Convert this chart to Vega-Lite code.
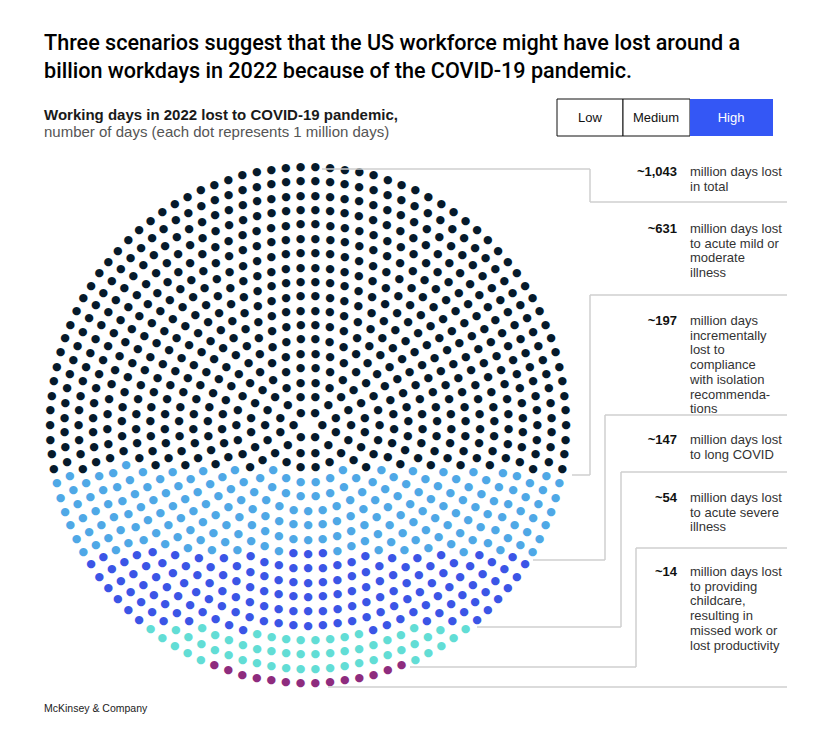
{
"$schema":"https://vega.github.io/schema/vega-lite/v6.json",
"width":616,"height":630,
"autosize":"none",
"padding":{"left":0,"top":110,"right":212,"bottom":1},
"background":"white",
"config":{"view":{"stroke":null}},
"datasets":{
"dots":[
{"r":1,"k":0,"c":"K"},{"r":1,"k":1,"c":"K"},{"r":1,"k":2,"c":"K"},{"r":1,"k":3,"c":"K"},{"r":1,"k":4,"c":"K"},{"r":1,"k":5,"c":"K"},
{"r":2,"k":0,"c":"K"},{"r":2,"k":1,"c":"K"},{"r":2,"k":2,"c":"K"},{"r":2,"k":3,"c":"K"},{"r":2,"k":4,"c":"K"},{"r":2,"k":5,"c":"K"},{"r":2,"k":6,"c":"K"},{"r":2,"k":7,"c":"K"},{"r":2,"k":8,"c":"K"},{"r":2,"k":9,"c":"K"},{"r":2,"k":10,"c":"K"},{"r":2,"k":11,"c":"K"},
{"r":3,"k":0,"c":"K"},{"r":3,"k":1,"c":"K"},{"r":3,"k":2,"c":"K"},{"r":3,"k":3,"c":"K"},{"r":3,"k":4,"c":"K"},{"r":3,"k":5,"c":"K"},{"r":3,"k":6,"c":"K"},{"r":3,"k":7,"c":"K"},{"r":3,"k":8,"c":"K"},{"r":3,"k":9,"c":"K"},{"r":3,"k":10,"c":"K"},{"r":3,"k":11,"c":"K"},{"r":3,"k":12,"c":"K"},{"r":3,"k":13,"c":"K"},{"r":3,"k":14,"c":"K"},{"r":3,"k":15,"c":"K"},{"r":3,"k":16,"c":"K"},{"r":3,"k":17,"c":"K"},
{"r":4,"k":0,"c":"K"},{"r":4,"k":1,"c":"K"},{"r":4,"k":2,"c":"K"},{"r":4,"k":3,"c":"K"},{"r":4,"k":4,"c":"K"},{"r":4,"k":5,"c":"K"},{"r":4,"k":6,"c":"K"},{"r":4,"k":7,"c":"K"},{"r":4,"k":8,"c":"K"},{"r":4,"k":9,"c":"L"},{"r":4,"k":10,"c":"L"},{"r":4,"k":11,"c":"L"},{"r":4,"k":12,"c":"L"},{"r":4,"k":13,"c":"L"},{"r":4,"k":14,"c":"L"},{"r":4,"k":15,"c":"K"},{"r":4,"k":16,"c":"K"},{"r":4,"k":17,"c":"K"},{"r":4,"k":18,"c":"K"},{"r":4,"k":19,"c":"K"},{"r":4,"k":20,"c":"K"},{"r":4,"k":21,"c":"K"},{"r":4,"k":22,"c":"K"},{"r":4,"k":23,"c":"K"},
{"r":5,"k":0,"c":"K"},{"r":5,"k":1,"c":"K"},{"r":5,"k":2,"c":"K"},{"r":5,"k":3,"c":"K"},{"r":5,"k":4,"c":"K"},{"r":5,"k":5,"c":"K"},{"r":5,"k":6,"c":"K"},{"r":5,"k":7,"c":"K"},{"r":5,"k":8,"c":"K"},{"r":5,"k":9,"c":"K"},{"r":5,"k":10,"c":"K"},{"r":5,"k":11,"c":"L"},{"r":5,"k":12,"c":"L"},{"r":5,"k":13,"c":"L"},{"r":5,"k":14,"c":"L"},{"r":5,"k":15,"c":"L"},{"r":5,"k":16,"c":"L"},{"r":5,"k":17,"c":"L"},{"r":5,"k":18,"c":"L"},{"r":5,"k":19,"c":"K"},{"r":5,"k":20,"c":"K"},{"r":5,"k":21,"c":"K"},{"r":5,"k":22,"c":"K"},{"r":5,"k":23,"c":"K"},{"r":5,"k":24,"c":"K"},{"r":5,"k":25,"c":"K"},{"r":5,"k":26,"c":"K"},{"r":5,"k":27,"c":"K"},{"r":5,"k":28,"c":"K"},{"r":5,"k":29,"c":"K"},
{"r":6,"k":0,"c":"K"},{"r":6,"k":1,"c":"K"},{"r":6,"k":2,"c":"K"},{"r":6,"k":3,"c":"K"},{"r":6,"k":4,"c":"K"},{"r":6,"k":5,"c":"K"},{"r":6,"k":6,"c":"K"},{"r":6,"k":7,"c":"K"},{"r":6,"k":8,"c":"K"},{"r":6,"k":9,"c":"K"},{"r":6,"k":10,"c":"K"},{"r":6,"k":11,"c":"K"},{"r":6,"k":12,"c":"L"},{"r":6,"k":13,"c":"L"},{"r":6,"k":14,"c":"L"},{"r":6,"k":15,"c":"L"},{"r":6,"k":16,"c":"L"},{"r":6,"k":17,"c":"L"},{"r":6,"k":18,"c":"L"},{"r":6,"k":19,"c":"L"},{"r":6,"k":20,"c":"L"},{"r":6,"k":21,"c":"L"},{"r":6,"k":22,"c":"L"},{"r":6,"k":23,"c":"L"},{"r":6,"k":24,"c":"L"},{"r":6,"k":25,"c":"K"},{"r":6,"k":26,"c":"K"},{"r":6,"k":27,"c":"K"},{"r":6,"k":28,"c":"K"},{"r":6,"k":29,"c":"K"},{"r":6,"k":30,"c":"K"},{"r":6,"k":31,"c":"K"},{"r":6,"k":32,"c":"K"},{"r":6,"k":33,"c":"K"},{"r":6,"k":34,"c":"K"},{"r":6,"k":35,"c":"K"},{"r":6,"k":36,"c":"K"},
{"r":7,"k":0,"c":"K"},{"r":7,"k":1,"c":"K"},{"r":7,"k":2,"c":"K"},{"r":7,"k":3,"c":"K"},{"r":7,"k":4,"c":"K"},{"r":7,"k":5,"c":"K"},{"r":7,"k":6,"c":"K"},{"r":7,"k":7,"c":"K"},{"r":7,"k":8,"c":"K"},{"r":7,"k":9,"c":"K"},{"r":7,"k":10,"c":"K"},{"r":7,"k":11,"c":"K"},{"r":7,"k":12,"c":"K"},{"r":7,"k":13,"c":"K"},{"r":7,"k":14,"c":"L"},{"r":7,"k":15,"c":"L"},{"r":7,"k":16,"c":"L"},{"r":7,"k":17,"c":"L"},{"r":7,"k":18,"c":"L"},{"r":7,"k":19,"c":"L"},{"r":7,"k":20,"c":"L"},{"r":7,"k":21,"c":"L"},{"r":7,"k":22,"c":"L"},{"r":7,"k":23,"c":"L"},{"r":7,"k":24,"c":"L"},{"r":7,"k":25,"c":"L"},{"r":7,"k":26,"c":"L"},{"r":7,"k":27,"c":"L"},{"r":7,"k":28,"c":"L"},{"r":7,"k":29,"c":"K"},{"r":7,"k":30,"c":"K"},{"r":7,"k":31,"c":"K"},{"r":7,"k":32,"c":"K"},{"r":7,"k":33,"c":"K"},{"r":7,"k":34,"c":"K"},{"r":7,"k":35,"c":"K"},{"r":7,"k":36,"c":"K"},{"r":7,"k":37,"c":"K"},{"r":7,"k":38,"c":"K"},{"r":7,"k":39,"c":"K"},{"r":7,"k":40,"c":"K"},{"r":7,"k":41,"c":"K"},{"r":7,"k":42,"c":"K"},
{"r":8,"k":0,"c":"K"},{"r":8,"k":1,"c":"K"},{"r":8,"k":2,"c":"K"},{"r":8,"k":3,"c":"K"},{"r":8,"k":4,"c":"K"},{"r":8,"k":5,"c":"K"},{"r":8,"k":6,"c":"K"},{"r":8,"k":7,"c":"K"},{"r":8,"k":8,"c":"K"},{"r":8,"k":9,"c":"K"},{"r":8,"k":10,"c":"K"},{"r":8,"k":11,"c":"K"},{"r":8,"k":12,"c":"K"},{"r":8,"k":13,"c":"K"},{"r":8,"k":14,"c":"K"},{"r":8,"k":15,"c":"L"},{"r":8,"k":16,"c":"L"},{"r":8,"k":17,"c":"L"},{"r":8,"k":18,"c":"L"},{"r":8,"k":19,"c":"L"},{"r":8,"k":20,"c":"L"},{"r":8,"k":21,"c":"L"},{"r":8,"k":22,"c":"L"},{"r":8,"k":23,"c":"L"},{"r":8,"k":24,"c":"L"},{"r":8,"k":25,"c":"L"},{"r":8,"k":26,"c":"L"},{"r":8,"k":27,"c":"L"},{"r":8,"k":28,"c":"L"},{"r":8,"k":29,"c":"L"},{"r":8,"k":30,"c":"L"},{"r":8,"k":31,"c":"L"},{"r":8,"k":32,"c":"L"},{"r":8,"k":33,"c":"L"},{"r":8,"k":34,"c":"K"},{"r":8,"k":35,"c":"K"},{"r":8,"k":36,"c":"K"},{"r":8,"k":37,"c":"K"},{"r":8,"k":38,"c":"K"},{"r":8,"k":39,"c":"K"},{"r":8,"k":40,"c":"K"},{"r":8,"k":41,"c":"K"},{"r":8,"k":42,"c":"K"},{"r":8,"k":43,"c":"K"},{"r":8,"k":44,"c":"K"},{"r":8,"k":45,"c":"K"},{"r":8,"k":46,"c":"K"},{"r":8,"k":47,"c":"K"},{"r":8,"k":48,"c":"K"},
{"r":9,"k":0,"c":"K"},{"r":9,"k":1,"c":"K"},{"r":9,"k":2,"c":"K"},{"r":9,"k":3,"c":"K"},{"r":9,"k":4,"c":"K"},{"r":9,"k":5,"c":"K"},{"r":9,"k":6,"c":"K"},{"r":9,"k":7,"c":"K"},{"r":9,"k":8,"c":"K"},{"r":9,"k":9,"c":"K"},{"r":9,"k":10,"c":"K"},{"r":9,"k":11,"c":"K"},{"r":9,"k":12,"c":"K"},{"r":9,"k":13,"c":"K"},{"r":9,"k":14,"c":"K"},{"r":9,"k":15,"c":"K"},{"r":9,"k":16,"c":"K"},{"r":9,"k":17,"c":"L"},{"r":9,"k":18,"c":"L"},{"r":9,"k":19,"c":"L"},{"r":9,"k":20,"c":"L"},{"r":9,"k":21,"c":"L"},{"r":9,"k":22,"c":"L"},{"r":9,"k":23,"c":"L"},{"r":9,"k":24,"c":"L"},{"r":9,"k":25,"c":"L"},{"r":9,"k":26,"c":"B"},{"r":9,"k":27,"c":"B"},{"r":9,"k":28,"c":"B"},{"r":9,"k":29,"c":"L"},{"r":9,"k":30,"c":"L"},{"r":9,"k":31,"c":"L"},{"r":9,"k":32,"c":"L"},{"r":9,"k":33,"c":"L"},{"r":9,"k":34,"c":"L"},{"r":9,"k":35,"c":"L"},{"r":9,"k":36,"c":"L"},{"r":9,"k":37,"c":"L"},{"r":9,"k":38,"c":"K"},{"r":9,"k":39,"c":"K"},{"r":9,"k":40,"c":"K"},{"r":9,"k":41,"c":"K"},{"r":9,"k":42,"c":"K"},{"r":9,"k":43,"c":"K"},{"r":9,"k":44,"c":"K"},{"r":9,"k":45,"c":"K"},{"r":9,"k":46,"c":"K"},{"r":9,"k":47,"c":"K"},{"r":9,"k":48,"c":"K"},{"r":9,"k":49,"c":"K"},{"r":9,"k":50,"c":"K"},{"r":9,"k":51,"c":"K"},{"r":9,"k":52,"c":"K"},{"r":9,"k":53,"c":"K"},{"r":9,"k":54,"c":"K"},
{"r":10,"k":0,"c":"K"},{"r":10,"k":1,"c":"K"},{"r":10,"k":2,"c":"K"},{"r":10,"k":3,"c":"K"},{"r":10,"k":4,"c":"K"},{"r":10,"k":5,"c":"K"},{"r":10,"k":6,"c":"K"},{"r":10,"k":7,"c":"K"},{"r":10,"k":8,"c":"K"},{"r":10,"k":9,"c":"K"},{"r":10,"k":10,"c":"K"},{"r":10,"k":11,"c":"K"},{"r":10,"k":12,"c":"K"},{"r":10,"k":13,"c":"K"},{"r":10,"k":14,"c":"K"},{"r":10,"k":15,"c":"K"},{"r":10,"k":16,"c":"K"},{"r":10,"k":17,"c":"K"},{"r":10,"k":18,"c":"L"},{"r":10,"k":19,"c":"L"},{"r":10,"k":20,"c":"L"},{"r":10,"k":21,"c":"L"},{"r":10,"k":22,"c":"L"},{"r":10,"k":23,"c":"L"},{"r":10,"k":24,"c":"L"},{"r":10,"k":25,"c":"L"},{"r":10,"k":26,"c":"B"},{"r":10,"k":27,"c":"B"},{"r":10,"k":28,"c":"B"},{"r":10,"k":29,"c":"B"},{"r":10,"k":30,"c":"B"},{"r":10,"k":31,"c":"B"},{"r":10,"k":32,"c":"B"},{"r":10,"k":33,"c":"B"},{"r":10,"k":34,"c":"B"},{"r":10,"k":35,"c":"L"},{"r":10,"k":36,"c":"L"},{"r":10,"k":37,"c":"L"},{"r":10,"k":38,"c":"L"},{"r":10,"k":39,"c":"L"},{"r":10,"k":40,"c":"L"},{"r":10,"k":41,"c":"L"},{"r":10,"k":42,"c":"L"},{"r":10,"k":43,"c":"K"},{"r":10,"k":44,"c":"K"},{"r":10,"k":45,"c":"K"},{"r":10,"k":46,"c":"K"},{"r":10,"k":47,"c":"K"},{"r":10,"k":48,"c":"K"},{"r":10,"k":49,"c":"K"},{"r":10,"k":50,"c":"K"},{"r":10,"k":51,"c":"K"},{"r":10,"k":52,"c":"K"},{"r":10,"k":53,"c":"K"},{"r":10,"k":54,"c":"K"},{"r":10,"k":55,"c":"K"},{"r":10,"k":56,"c":"K"},{"r":10,"k":57,"c":"K"},{"r":10,"k":58,"c":"K"},{"r":10,"k":59,"c":"K"},{"r":10,"k":60,"c":"K"},
{"r":11,"k":0,"c":"K"},{"r":11,"k":1,"c":"K"},{"r":11,"k":2,"c":"K"},{"r":11,"k":3,"c":"K"},{"r":11,"k":4,"c":"K"},{"r":11,"k":5,"c":"K"},{"r":11,"k":6,"c":"K"},{"r":11,"k":7,"c":"K"},{"r":11,"k":8,"c":"K"},{"r":11,"k":9,"c":"K"},{"r":11,"k":10,"c":"K"},{"r":11,"k":11,"c":"K"},{"r":11,"k":12,"c":"K"},{"r":11,"k":13,"c":"K"},{"r":11,"k":14,"c":"K"},{"r":11,"k":15,"c":"K"},{"r":11,"k":16,"c":"K"},{"r":11,"k":17,"c":"K"},{"r":11,"k":18,"c":"K"},{"r":11,"k":19,"c":"K"},{"r":11,"k":20,"c":"L"},{"r":11,"k":21,"c":"L"},{"r":11,"k":22,"c":"L"},{"r":11,"k":23,"c":"L"},{"r":11,"k":24,"c":"L"},{"r":11,"k":25,"c":"L"},{"r":11,"k":26,"c":"L"},{"r":11,"k":27,"c":"B"},{"r":11,"k":28,"c":"B"},{"r":11,"k":29,"c":"B"},{"r":11,"k":30,"c":"B"},{"r":11,"k":31,"c":"B"},{"r":11,"k":32,"c":"B"},{"r":11,"k":33,"c":"B"},{"r":11,"k":34,"c":"B"},{"r":11,"k":35,"c":"B"},{"r":11,"k":36,"c":"B"},{"r":11,"k":37,"c":"B"},{"r":11,"k":38,"c":"B"},{"r":11,"k":39,"c":"B"},{"r":11,"k":40,"c":"L"},{"r":11,"k":41,"c":"L"},{"r":11,"k":42,"c":"L"},{"r":11,"k":43,"c":"L"},{"r":11,"k":44,"c":"L"},{"r":11,"k":45,"c":"L"},{"r":11,"k":46,"c":"L"},{"r":11,"k":47,"c":"K"},{"r":11,"k":48,"c":"K"},{"r":11,"k":49,"c":"K"},{"r":11,"k":50,"c":"K"},{"r":11,"k":51,"c":"K"},{"r":11,"k":52,"c":"K"},{"r":11,"k":53,"c":"K"},{"r":11,"k":54,"c":"K"},{"r":11,"k":55,"c":"K"},{"r":11,"k":56,"c":"K"},{"r":11,"k":57,"c":"K"},{"r":11,"k":58,"c":"K"},{"r":11,"k":59,"c":"K"},{"r":11,"k":60,"c":"K"},{"r":11,"k":61,"c":"K"},{"r":11,"k":62,"c":"K"},{"r":11,"k":63,"c":"K"},{"r":11,"k":64,"c":"K"},{"r":11,"k":65,"c":"K"},{"r":11,"k":66,"c":"K"},
{"r":12,"k":0,"c":"K"},{"r":12,"k":1,"c":"K"},{"r":12,"k":2,"c":"K"},{"r":12,"k":3,"c":"K"},{"r":12,"k":4,"c":"K"},{"r":12,"k":5,"c":"K"},{"r":12,"k":6,"c":"K"},{"r":12,"k":7,"c":"K"},{"r":12,"k":8,"c":"K"},{"r":12,"k":9,"c":"K"},{"r":12,"k":10,"c":"K"},{"r":12,"k":11,"c":"K"},{"r":12,"k":12,"c":"K"},{"r":12,"k":13,"c":"K"},{"r":12,"k":14,"c":"K"},{"r":12,"k":15,"c":"K"},{"r":12,"k":16,"c":"K"},{"r":12,"k":17,"c":"K"},{"r":12,"k":18,"c":"K"},{"r":12,"k":19,"c":"K"},{"r":12,"k":20,"c":"K"},{"r":12,"k":21,"c":"L"},{"r":12,"k":22,"c":"L"},{"r":12,"k":23,"c":"L"},{"r":12,"k":24,"c":"L"},{"r":12,"k":25,"c":"L"},{"r":12,"k":26,"c":"L"},{"r":12,"k":27,"c":"L"},{"r":12,"k":28,"c":"B"},{"r":12,"k":29,"c":"B"},{"r":12,"k":30,"c":"B"},{"r":12,"k":31,"c":"B"},{"r":12,"k":32,"c":"B"},{"r":12,"k":33,"c":"B"},{"r":12,"k":34,"c":"B"},{"r":12,"k":35,"c":"B"},{"r":12,"k":36,"c":"B"},{"r":12,"k":37,"c":"B"},{"r":12,"k":38,"c":"B"},{"r":12,"k":39,"c":"B"},{"r":12,"k":40,"c":"B"},{"r":12,"k":41,"c":"B"},{"r":12,"k":42,"c":"B"},{"r":12,"k":43,"c":"B"},{"r":12,"k":44,"c":"B"},{"r":12,"k":45,"c":"L"},{"r":12,"k":46,"c":"L"},{"r":12,"k":47,"c":"L"},{"r":12,"k":48,"c":"L"},{"r":12,"k":49,"c":"L"},{"r":12,"k":50,"c":"L"},{"r":12,"k":51,"c":"L"},{"r":12,"k":52,"c":"K"},{"r":12,"k":53,"c":"K"},{"r":12,"k":54,"c":"K"},{"r":12,"k":55,"c":"K"},{"r":12,"k":56,"c":"K"},{"r":12,"k":57,"c":"K"},{"r":12,"k":58,"c":"K"},{"r":12,"k":59,"c":"K"},{"r":12,"k":60,"c":"K"},{"r":12,"k":61,"c":"K"},{"r":12,"k":62,"c":"K"},{"r":12,"k":63,"c":"K"},{"r":12,"k":64,"c":"K"},{"r":12,"k":65,"c":"K"},{"r":12,"k":66,"c":"K"},{"r":12,"k":67,"c":"K"},{"r":12,"k":68,"c":"K"},{"r":12,"k":69,"c":"K"},{"r":12,"k":70,"c":"K"},{"r":12,"k":71,"c":"K"},{"r":12,"k":72,"c":"K"},
{"r":13,"k":0,"c":"K"},{"r":13,"k":1,"c":"K"},{"r":13,"k":2,"c":"K"},{"r":13,"k":3,"c":"K"},{"r":13,"k":4,"c":"K"},{"r":13,"k":5,"c":"K"},{"r":13,"k":6,"c":"K"},{"r":13,"k":7,"c":"K"},{"r":13,"k":8,"c":"K"},{"r":13,"k":9,"c":"K"},{"r":13,"k":10,"c":"K"},{"r":13,"k":11,"c":"K"},{"r":13,"k":12,"c":"K"},{"r":13,"k":13,"c":"K"},{"r":13,"k":14,"c":"K"},{"r":13,"k":15,"c":"K"},{"r":13,"k":16,"c":"K"},{"r":13,"k":17,"c":"K"},{"r":13,"k":18,"c":"K"},{"r":13,"k":19,"c":"K"},{"r":13,"k":20,"c":"K"},{"r":13,"k":21,"c":"K"},{"r":13,"k":22,"c":"K"},{"r":13,"k":23,"c":"L"},{"r":13,"k":24,"c":"L"},{"r":13,"k":25,"c":"L"},{"r":13,"k":26,"c":"L"},{"r":13,"k":27,"c":"L"},{"r":13,"k":28,"c":"L"},{"r":13,"k":29,"c":"B"},{"r":13,"k":30,"c":"B"},{"r":13,"k":31,"c":"B"},{"r":13,"k":32,"c":"B"},{"r":13,"k":33,"c":"B"},{"r":13,"k":34,"c":"B"},{"r":13,"k":35,"c":"B"},{"r":13,"k":36,"c":"B"},{"r":13,"k":37,"c":"B"},{"r":13,"k":38,"c":"B"},{"r":13,"k":39,"c":"B"},{"r":13,"k":40,"c":"B"},{"r":13,"k":41,"c":"B"},{"r":13,"k":42,"c":"B"},{"r":13,"k":43,"c":"B"},{"r":13,"k":44,"c":"B"},{"r":13,"k":45,"c":"B"},{"r":13,"k":46,"c":"B"},{"r":13,"k":47,"c":"B"},{"r":13,"k":48,"c":"B"},{"r":13,"k":49,"c":"B"},{"r":13,"k":50,"c":"L"},{"r":13,"k":51,"c":"L"},{"r":13,"k":52,"c":"L"},{"r":13,"k":53,"c":"L"},{"r":13,"k":54,"c":"L"},{"r":13,"k":55,"c":"L"},{"r":13,"k":56,"c":"L"},{"r":13,"k":57,"c":"K"},{"r":13,"k":58,"c":"K"},{"r":13,"k":59,"c":"K"},{"r":13,"k":60,"c":"K"},{"r":13,"k":61,"c":"K"},{"r":13,"k":62,"c":"K"},{"r":13,"k":63,"c":"K"},{"r":13,"k":64,"c":"K"},{"r":13,"k":65,"c":"K"},{"r":13,"k":66,"c":"K"},{"r":13,"k":67,"c":"K"},{"r":13,"k":68,"c":"K"},{"r":13,"k":69,"c":"K"},{"r":13,"k":70,"c":"K"},{"r":13,"k":71,"c":"K"},{"r":13,"k":72,"c":"K"},{"r":13,"k":73,"c":"K"},{"r":13,"k":74,"c":"K"},{"r":13,"k":75,"c":"K"},{"r":13,"k":76,"c":"K"},{"r":13,"k":77,"c":"K"},{"r":13,"k":78,"c":"K"},
{"r":14,"k":0,"c":"K"},{"r":14,"k":1,"c":"K"},{"r":14,"k":2,"c":"K"},{"r":14,"k":3,"c":"K"},{"r":14,"k":4,"c":"K"},{"r":14,"k":5,"c":"K"},{"r":14,"k":6,"c":"K"},{"r":14,"k":7,"c":"K"},{"r":14,"k":8,"c":"K"},{"r":14,"k":9,"c":"K"},{"r":14,"k":10,"c":"K"},{"r":14,"k":11,"c":"K"},{"r":14,"k":12,"c":"K"},{"r":14,"k":13,"c":"K"},{"r":14,"k":14,"c":"K"},{"r":14,"k":15,"c":"K"},{"r":14,"k":16,"c":"K"},{"r":14,"k":17,"c":"K"},{"r":14,"k":18,"c":"K"},{"r":14,"k":19,"c":"K"},{"r":14,"k":20,"c":"K"},{"r":14,"k":21,"c":"K"},{"r":14,"k":22,"c":"K"},{"r":14,"k":23,"c":"K"},{"r":14,"k":24,"c":"L"},{"r":14,"k":25,"c":"L"},{"r":14,"k":26,"c":"L"},{"r":14,"k":27,"c":"L"},{"r":14,"k":28,"c":"L"},{"r":14,"k":29,"c":"L"},{"r":14,"k":30,"c":"L"},{"r":14,"k":31,"c":"B"},{"r":14,"k":32,"c":"B"},{"r":14,"k":33,"c":"B"},{"r":14,"k":34,"c":"B"},{"r":14,"k":35,"c":"B"},{"r":14,"k":36,"c":"B"},{"r":14,"k":37,"c":"B"},{"r":14,"k":38,"c":"B"},{"r":14,"k":39,"c":"B"},{"r":14,"k":40,"c":"B"},{"r":14,"k":41,"c":"B"},{"r":14,"k":42,"c":"B"},{"r":14,"k":43,"c":"B"},{"r":14,"k":44,"c":"B"},{"r":14,"k":45,"c":"B"},{"r":14,"k":46,"c":"B"},{"r":14,"k":47,"c":"B"},{"r":14,"k":48,"c":"B"},{"r":14,"k":49,"c":"B"},{"r":14,"k":50,"c":"B"},{"r":14,"k":51,"c":"B"},{"r":14,"k":52,"c":"B"},{"r":14,"k":53,"c":"B"},{"r":14,"k":54,"c":"B"},{"r":14,"k":55,"c":"L"},{"r":14,"k":56,"c":"L"},{"r":14,"k":57,"c":"L"},{"r":14,"k":58,"c":"L"},{"r":14,"k":59,"c":"L"},{"r":14,"k":60,"c":"L"},{"r":14,"k":61,"c":"K"},{"r":14,"k":62,"c":"K"},{"r":14,"k":63,"c":"K"},{"r":14,"k":64,"c":"K"},{"r":14,"k":65,"c":"K"},{"r":14,"k":66,"c":"K"},{"r":14,"k":67,"c":"K"},{"r":14,"k":68,"c":"K"},{"r":14,"k":69,"c":"K"},{"r":14,"k":70,"c":"K"},{"r":14,"k":71,"c":"K"},{"r":14,"k":72,"c":"K"},{"r":14,"k":73,"c":"K"},{"r":14,"k":74,"c":"K"},{"r":14,"k":75,"c":"K"},{"r":14,"k":76,"c":"K"},{"r":14,"k":77,"c":"K"},{"r":14,"k":78,"c":"K"},{"r":14,"k":79,"c":"K"},{"r":14,"k":80,"c":"K"},{"r":14,"k":81,"c":"K"},{"r":14,"k":82,"c":"K"},{"r":14,"k":83,"c":"K"},{"r":14,"k":84,"c":"K"},
{"r":15,"k":0,"c":"K"},{"r":15,"k":1,"c":"K"},{"r":15,"k":2,"c":"K"},{"r":15,"k":3,"c":"K"},{"r":15,"k":4,"c":"K"},{"r":15,"k":5,"c":"K"},{"r":15,"k":6,"c":"K"},{"r":15,"k":7,"c":"K"},{"r":15,"k":8,"c":"K"},{"r":15,"k":9,"c":"K"},{"r":15,"k":10,"c":"K"},{"r":15,"k":11,"c":"K"},{"r":15,"k":12,"c":"K"},{"r":15,"k":13,"c":"K"},{"r":15,"k":14,"c":"K"},{"r":15,"k":15,"c":"K"},{"r":15,"k":16,"c":"K"},{"r":15,"k":17,"c":"K"},{"r":15,"k":18,"c":"K"},{"r":15,"k":19,"c":"K"},{"r":15,"k":20,"c":"K"},{"r":15,"k":21,"c":"K"},{"r":15,"k":22,"c":"K"},{"r":15,"k":23,"c":"K"},{"r":15,"k":24,"c":"K"},{"r":15,"k":25,"c":"K"},{"r":15,"k":26,"c":"L"},{"r":15,"k":27,"c":"L"},{"r":15,"k":28,"c":"L"},{"r":15,"k":29,"c":"L"},{"r":15,"k":30,"c":"L"},{"r":15,"k":31,"c":"L"},{"r":15,"k":32,"c":"B"},{"r":15,"k":33,"c":"B"},{"r":15,"k":34,"c":"B"},{"r":15,"k":35,"c":"B"},{"r":15,"k":36,"c":"B"},{"r":15,"k":37,"c":"B"},{"r":15,"k":38,"c":"B"},{"r":15,"k":39,"c":"B"},{"r":15,"k":40,"c":"B"},{"r":15,"k":41,"c":"B"},{"r":15,"k":42,"c":"C"},{"r":15,"k":43,"c":"C"},{"r":15,"k":44,"c":"C"},{"r":15,"k":45,"c":"C"},{"r":15,"k":46,"c":"C"},{"r":15,"k":47,"c":"C"},{"r":15,"k":48,"c":"C"},{"r":15,"k":49,"c":"C"},{"r":15,"k":50,"c":"B"},{"r":15,"k":51,"c":"B"},{"r":15,"k":52,"c":"B"},{"r":15,"k":53,"c":"B"},{"r":15,"k":54,"c":"B"},{"r":15,"k":55,"c":"B"},{"r":15,"k":56,"c":"B"},{"r":15,"k":57,"c":"B"},{"r":15,"k":58,"c":"B"},{"r":15,"k":59,"c":"B"},{"r":15,"k":60,"c":"L"},{"r":15,"k":61,"c":"L"},{"r":15,"k":62,"c":"L"},{"r":15,"k":63,"c":"L"},{"r":15,"k":64,"c":"L"},{"r":15,"k":65,"c":"L"},{"r":15,"k":66,"c":"K"},{"r":15,"k":67,"c":"K"},{"r":15,"k":68,"c":"K"},{"r":15,"k":69,"c":"K"},{"r":15,"k":70,"c":"K"},{"r":15,"k":71,"c":"K"},{"r":15,"k":72,"c":"K"},{"r":15,"k":73,"c":"K"},{"r":15,"k":74,"c":"K"},{"r":15,"k":75,"c":"K"},{"r":15,"k":76,"c":"K"},{"r":15,"k":77,"c":"K"},{"r":15,"k":78,"c":"K"},{"r":15,"k":79,"c":"K"},{"r":15,"k":80,"c":"K"},{"r":15,"k":81,"c":"K"},{"r":15,"k":82,"c":"K"},{"r":15,"k":83,"c":"K"},{"r":15,"k":84,"c":"K"},{"r":15,"k":85,"c":"K"},{"r":15,"k":86,"c":"K"},{"r":15,"k":87,"c":"K"},{"r":15,"k":88,"c":"K"},{"r":15,"k":89,"c":"K"},{"r":15,"k":90,"c":"K"},{"r":15,"k":91,"c":"K"},
{"r":16,"k":0,"c":"K"},{"r":16,"k":1,"c":"K"},{"r":16,"k":2,"c":"K"},{"r":16,"k":3,"c":"K"},{"r":16,"k":4,"c":"K"},{"r":16,"k":5,"c":"K"},{"r":16,"k":6,"c":"K"},{"r":16,"k":7,"c":"K"},{"r":16,"k":8,"c":"K"},{"r":16,"k":9,"c":"K"},{"r":16,"k":10,"c":"K"},{"r":16,"k":11,"c":"K"},{"r":16,"k":12,"c":"K"},{"r":16,"k":13,"c":"K"},{"r":16,"k":14,"c":"K"},{"r":16,"k":15,"c":"K"},{"r":16,"k":16,"c":"K"},{"r":16,"k":17,"c":"K"},{"r":16,"k":18,"c":"K"},{"r":16,"k":19,"c":"K"},{"r":16,"k":20,"c":"K"},{"r":16,"k":21,"c":"K"},{"r":16,"k":22,"c":"K"},{"r":16,"k":23,"c":"K"},{"r":16,"k":24,"c":"K"},{"r":16,"k":25,"c":"K"},{"r":16,"k":26,"c":"K"},{"r":16,"k":27,"c":"K"},{"r":16,"k":28,"c":"L"},{"r":16,"k":29,"c":"L"},{"r":16,"k":30,"c":"L"},{"r":16,"k":31,"c":"L"},{"r":16,"k":32,"c":"L"},{"r":16,"k":33,"c":"L"},{"r":16,"k":34,"c":"B"},{"r":16,"k":35,"c":"B"},{"r":16,"k":36,"c":"B"},{"r":16,"k":37,"c":"B"},{"r":16,"k":38,"c":"B"},{"r":16,"k":39,"c":"B"},{"r":16,"k":40,"c":"B"},{"r":16,"k":41,"c":"C"},{"r":16,"k":42,"c":"C"},{"r":16,"k":43,"c":"C"},{"r":16,"k":44,"c":"C"},{"r":16,"k":45,"c":"C"},{"r":16,"k":46,"c":"C"},{"r":16,"k":47,"c":"C"},{"r":16,"k":48,"c":"C"},{"r":16,"k":49,"c":"C"},{"r":16,"k":50,"c":"C"},{"r":16,"k":51,"c":"C"},{"r":16,"k":52,"c":"C"},{"r":16,"k":53,"c":"C"},{"r":16,"k":54,"c":"C"},{"r":16,"k":55,"c":"C"},{"r":16,"k":56,"c":"C"},{"r":16,"k":57,"c":"B"},{"r":16,"k":58,"c":"B"},{"r":16,"k":59,"c":"B"},{"r":16,"k":60,"c":"B"},{"r":16,"k":61,"c":"B"},{"r":16,"k":62,"c":"B"},{"r":16,"k":63,"c":"B"},{"r":16,"k":64,"c":"L"},{"r":16,"k":65,"c":"L"},{"r":16,"k":66,"c":"L"},{"r":16,"k":67,"c":"L"},{"r":16,"k":68,"c":"L"},{"r":16,"k":69,"c":"L"},{"r":16,"k":70,"c":"K"},{"r":16,"k":71,"c":"K"},{"r":16,"k":72,"c":"K"},{"r":16,"k":73,"c":"K"},{"r":16,"k":74,"c":"K"},{"r":16,"k":75,"c":"K"},{"r":16,"k":76,"c":"K"},{"r":16,"k":77,"c":"K"},{"r":16,"k":78,"c":"K"},{"r":16,"k":79,"c":"K"},{"r":16,"k":80,"c":"K"},{"r":16,"k":81,"c":"K"},{"r":16,"k":82,"c":"K"},{"r":16,"k":83,"c":"K"},{"r":16,"k":84,"c":"K"},{"r":16,"k":85,"c":"K"},{"r":16,"k":86,"c":"K"},{"r":16,"k":87,"c":"K"},{"r":16,"k":88,"c":"K"},{"r":16,"k":89,"c":"K"},{"r":16,"k":90,"c":"K"},{"r":16,"k":91,"c":"K"},{"r":16,"k":92,"c":"K"},{"r":16,"k":93,"c":"K"},{"r":16,"k":94,"c":"K"},{"r":16,"k":95,"c":"K"},{"r":16,"k":96,"c":"K"},{"r":16,"k":97,"c":"K"},
{"r":17,"k":0,"c":"K"},{"r":17,"k":1,"c":"K"},{"r":17,"k":2,"c":"K"},{"r":17,"k":3,"c":"K"},{"r":17,"k":4,"c":"K"},{"r":17,"k":5,"c":"K"},{"r":17,"k":6,"c":"K"},{"r":17,"k":7,"c":"K"},{"r":17,"k":8,"c":"K"},{"r":17,"k":9,"c":"K"},{"r":17,"k":10,"c":"K"},{"r":17,"k":11,"c":"K"},{"r":17,"k":12,"c":"K"},{"r":17,"k":13,"c":"K"},{"r":17,"k":14,"c":"K"},{"r":17,"k":15,"c":"K"},{"r":17,"k":16,"c":"K"},{"r":17,"k":17,"c":"K"},{"r":17,"k":18,"c":"K"},{"r":17,"k":19,"c":"K"},{"r":17,"k":20,"c":"K"},{"r":17,"k":21,"c":"K"},{"r":17,"k":22,"c":"K"},{"r":17,"k":23,"c":"K"},{"r":17,"k":24,"c":"K"},{"r":17,"k":25,"c":"K"},{"r":17,"k":26,"c":"K"},{"r":17,"k":27,"c":"K"},{"r":17,"k":28,"c":"K"},{"r":17,"k":29,"c":"L"},{"r":17,"k":30,"c":"L"},{"r":17,"k":31,"c":"L"},{"r":17,"k":32,"c":"L"},{"r":17,"k":33,"c":"L"},{"r":17,"k":34,"c":"L"},{"r":17,"k":35,"c":"B"},{"r":17,"k":36,"c":"B"},{"r":17,"k":37,"c":"B"},{"r":17,"k":38,"c":"B"},{"r":17,"k":39,"c":"B"},{"r":17,"k":40,"c":"B"},{"r":17,"k":41,"c":"B"},{"r":17,"k":42,"c":"C"},{"r":17,"k":43,"c":"C"},{"r":17,"k":44,"c":"C"},{"r":17,"k":45,"c":"C"},{"r":17,"k":46,"c":"C"},{"r":17,"k":47,"c":"C"},{"r":17,"k":48,"c":"C"},{"r":17,"k":49,"c":"C"},{"r":17,"k":50,"c":"C"},{"r":17,"k":51,"c":"C"},{"r":17,"k":52,"c":"C"},{"r":17,"k":53,"c":"C"},{"r":17,"k":54,"c":"C"},{"r":17,"k":55,"c":"C"},{"r":17,"k":56,"c":"C"},{"r":17,"k":57,"c":"C"},{"r":17,"k":58,"c":"C"},{"r":17,"k":59,"c":"C"},{"r":17,"k":60,"c":"C"},{"r":17,"k":61,"c":"C"},{"r":17,"k":62,"c":"B"},{"r":17,"k":63,"c":"B"},{"r":17,"k":64,"c":"B"},{"r":17,"k":65,"c":"B"},{"r":17,"k":66,"c":"B"},{"r":17,"k":67,"c":"B"},{"r":17,"k":68,"c":"B"},{"r":17,"k":69,"c":"L"},{"r":17,"k":70,"c":"L"},{"r":17,"k":71,"c":"L"},{"r":17,"k":72,"c":"L"},{"r":17,"k":73,"c":"L"},{"r":17,"k":74,"c":"L"},{"r":17,"k":75,"c":"K"},{"r":17,"k":76,"c":"K"},{"r":17,"k":77,"c":"K"},{"r":17,"k":78,"c":"K"},{"r":17,"k":79,"c":"K"},{"r":17,"k":80,"c":"K"},{"r":17,"k":81,"c":"K"},{"r":17,"k":82,"c":"K"},{"r":17,"k":83,"c":"K"},{"r":17,"k":84,"c":"K"},{"r":17,"k":85,"c":"K"},{"r":17,"k":86,"c":"K"},{"r":17,"k":87,"c":"K"},{"r":17,"k":88,"c":"K"},{"r":17,"k":89,"c":"K"},{"r":17,"k":90,"c":"K"},{"r":17,"k":91,"c":"K"},{"r":17,"k":92,"c":"K"},{"r":17,"k":93,"c":"K"},{"r":17,"k":94,"c":"K"},{"r":17,"k":95,"c":"K"},{"r":17,"k":96,"c":"K"},{"r":17,"k":97,"c":"K"},{"r":17,"k":98,"c":"K"},{"r":17,"k":99,"c":"K"},{"r":17,"k":100,"c":"K"},{"r":17,"k":101,"c":"K"},{"r":17,"k":102,"c":"K"},{"r":17,"k":103,"c":"K"},
{"r":18,"k":0,"c":"K"},{"r":18,"k":1,"c":"K"},{"r":18,"k":2,"c":"K"},{"r":18,"k":3,"c":"K"},{"r":18,"k":4,"c":"K"},{"r":18,"k":5,"c":"K"},{"r":18,"k":6,"c":"K"},{"r":18,"k":7,"c":"K"},{"r":18,"k":8,"c":"K"},{"r":18,"k":9,"c":"K"},{"r":18,"k":10,"c":"K"},{"r":18,"k":11,"c":"K"},{"r":18,"k":12,"c":"K"},{"r":18,"k":13,"c":"K"},{"r":18,"k":14,"c":"K"},{"r":18,"k":15,"c":"K"},{"r":18,"k":16,"c":"K"},{"r":18,"k":17,"c":"K"},{"r":18,"k":18,"c":"K"},{"r":18,"k":19,"c":"K"},{"r":18,"k":20,"c":"K"},{"r":18,"k":21,"c":"K"},{"r":18,"k":22,"c":"K"},{"r":18,"k":23,"c":"K"},{"r":18,"k":24,"c":"K"},{"r":18,"k":25,"c":"K"},{"r":18,"k":26,"c":"K"},{"r":18,"k":27,"c":"K"},{"r":18,"k":28,"c":"K"},{"r":18,"k":29,"c":"K"},{"r":18,"k":30,"c":"K"},{"r":18,"k":31,"c":"L"},{"r":18,"k":32,"c":"L"},{"r":18,"k":33,"c":"L"},{"r":18,"k":34,"c":"L"},{"r":18,"k":35,"c":"L"},{"r":18,"k":36,"c":"L"},{"r":18,"k":37,"c":"B"},{"r":18,"k":38,"c":"B"},{"r":18,"k":39,"c":"B"},{"r":18,"k":40,"c":"B"},{"r":18,"k":41,"c":"B"},{"r":18,"k":42,"c":"B"},{"r":18,"k":43,"c":"C"},{"r":18,"k":44,"c":"C"},{"r":18,"k":45,"c":"C"},{"r":18,"k":46,"c":"C"},{"r":18,"k":47,"c":"C"},{"r":18,"k":48,"c":"P"},{"r":18,"k":49,"c":"P"},{"r":18,"k":50,"c":"P"},{"r":18,"k":51,"c":"P"},{"r":18,"k":52,"c":"P"},{"r":18,"k":53,"c":"P"},{"r":18,"k":54,"c":"P"},{"r":18,"k":55,"c":"P"},{"r":18,"k":56,"c":"P"},{"r":18,"k":57,"c":"P"},{"r":18,"k":58,"c":"P"},{"r":18,"k":59,"c":"P"},{"r":18,"k":60,"c":"P"},{"r":18,"k":61,"c":"P"},{"r":18,"k":62,"c":"C"},{"r":18,"k":63,"c":"C"},{"r":18,"k":64,"c":"C"},{"r":18,"k":65,"c":"C"},{"r":18,"k":66,"c":"C"},{"r":18,"k":67,"c":"B"},{"r":18,"k":68,"c":"B"},{"r":18,"k":69,"c":"B"},{"r":18,"k":70,"c":"B"},{"r":18,"k":71,"c":"B"},{"r":18,"k":72,"c":"B"},{"r":18,"k":73,"c":"L"},{"r":18,"k":74,"c":"L"},{"r":18,"k":75,"c":"L"},{"r":18,"k":76,"c":"L"},{"r":18,"k":77,"c":"L"},{"r":18,"k":78,"c":"L"},{"r":18,"k":79,"c":"K"},{"r":18,"k":80,"c":"K"},{"r":18,"k":81,"c":"K"},{"r":18,"k":82,"c":"K"},{"r":18,"k":83,"c":"K"},{"r":18,"k":84,"c":"K"},{"r":18,"k":85,"c":"K"},{"r":18,"k":86,"c":"K"},{"r":18,"k":87,"c":"K"},{"r":18,"k":88,"c":"K"},{"r":18,"k":89,"c":"K"},{"r":18,"k":90,"c":"K"},{"r":18,"k":91,"c":"K"},{"r":18,"k":92,"c":"K"},{"r":18,"k":93,"c":"K"},{"r":18,"k":94,"c":"K"},{"r":18,"k":95,"c":"K"},{"r":18,"k":96,"c":"K"},{"r":18,"k":97,"c":"K"},{"r":18,"k":98,"c":"K"},{"r":18,"k":99,"c":"K"},{"r":18,"k":100,"c":"K"},{"r":18,"k":101,"c":"K"},{"r":18,"k":102,"c":"K"},{"r":18,"k":103,"c":"K"},{"r":18,"k":104,"c":"K"},{"r":18,"k":105,"c":"K"},{"r":18,"k":106,"c":"K"},{"r":18,"k":107,"c":"K"},{"r":18,"k":108,"c":"K"},{"r":18,"k":109,"c":"K"}
],
"guides":[
{"x":322,"x2":590,"y":169,"y2":169},{"x":590,"x2":590,"y":169,"y2":202},{"x":590,"x2":787,"y":202,"y2":202},
{"x":572,"x2":590,"y":475,"y2":475},{"x":590,"x2":590,"y":295,"y2":475},{"x":590,"x2":787,"y":295,"y2":295},
{"x":533,"x2":605,"y":560,"y2":560},{"x":605,"x2":605,"y":415,"y2":560},{"x":605,"x2":787,"y":415,"y2":415},
{"x":477,"x2":621,"y":627,"y2":627},{"x":621,"x2":621,"y":472,"y2":627},{"x":621,"x2":787,"y":472,"y2":472},
{"x":410,"x2":636,"y":667,"y2":667},{"x":636,"x2":636,"y":548,"y2":667},{"x":636,"x2":787,"y":548,"y2":548},
{"x":328,"x2":787,"y":687,"y2":687}
],
"vals":[
{"x":677,"y":176,"t":"~1,043"},
{"x":677,"y":233,"t":"~631"},
{"x":677,"y":325,"t":"~197"},
{"x":677,"y":444,"t":"~147"},
{"x":677,"y":502,"t":"~54"},
{"x":677,"y":576,"t":"~14"}
],
"descs":[
{"x":690,"y":176,"t":["million days lost","in total"]},
{"x":690,"y":233,"t":["million days lost","to acute mild or","moderate","illness"]},
{"x":690,"y":325,"t":["million days","incrementally","lost to","compliance","with isolation","recommenda-","tions"]},
{"x":690,"y":444,"t":["million days lost","to long COVID"]},
{"x":690,"y":502,"t":["million days lost","to acute severe","illness"]},
{"x":690,"y":576,"t":["million days lost","to providing","childcare,","resulting in","missed work or","lost productivity"]}
]
},
"layer":[
{
"data":{"name":"dots"},
"mark":{"type":"text","text":"●","font":"DejaVu Sans","fontSize":11,"align":"center","baseline":"middle"},
"encoding":{
"theta":{"aggregate":"count","type":"quantitative","stack":"normalize"},
"radius":{"field":"r","type":"quantitative","scale":{"type":"linear","domain":[0,18],"range":[0,258],"zero":true}},
"order":{"field":"k","type":"quantitative"},
"detail":{"field":"k","type":"quantitative"},
"color":{"field":"c","type":"nominal","scale":{"domain":["K","L","B","C","P"],"range":["#061A2B","#4FA8E6","#3B55E6","#62DDD5","#8E2C7E"]},"legend":null}
}
},
{
"encoding":{
"x":{"field":"x","type":"quantitative","scale":{"domain":[0,616],"nice":false,"zero":false},"axis":null},
"y":{"field":"y","type":"quantitative","scale":{"domain":[110,740],"nice":false,"zero":false,"reverse":true},"axis":null}
},
"layer":[
{"data":{"name":"guides"},"mark":{"type":"rule","color":"#cfcfcf","strokeWidth":1.5},
 "encoding":{"x2":{"field":"x2"},"y2":{"field":"y2"}}},
{"data":{"values":[{"x":557,"x2":623,"y":99,"y2":136},{"x":623,"x2":690,"y":99,"y2":136}]},
 "mark":{"type":"rect","fill":"white","stroke":"#111111","strokeWidth":1},
 "encoding":{"x2":{"field":"x2"},"y2":{"field":"y2"}}},
{"data":{"values":[{"x":690,"x2":773,"y":99,"y2":136}]},
 "mark":{"type":"rect","fill":"#3457F5"},
 "encoding":{"x2":{"field":"x2"},"y2":{"field":"y2"}}},
{"data":{"values":[{"x":590,"y":122,"t":"Low"},{"x":656,"y":122,"t":"Medium"}]},
 "mark":{"type":"text","font":"Liberation Sans","fontSize":13,"align":"center","baseline":"alphabetic","color":"#111111"},
 "encoding":{"text":{"field":"t"}}},
{"data":{"values":[{"x":731,"y":122,"t":"High"}]},
 "mark":{"type":"text","font":"Liberation Sans","fontSize":13,"align":"center","baseline":"alphabetic","color":"#ffffff"},
 "encoding":{"text":{"field":"t"}}},
{"data":{"values":[{"x":44,"y":50,"t":["Three scenarios suggest that the US workforce might have lost around a","billion workdays in 2022 because of the COVID-19 pandemic."]}]},
 "mark":{"type":"text","font":"Roboto","fontSize":21.6,"fontWeight":500,"align":"left","baseline":"alphabetic","lineHeight":28,"color":"#000000"},
 "encoding":{"text":{"field":"t"}}},
{"data":{"values":[{"x":44,"y":120,"t":"Working days in 2022 lost to COVID-19 pandemic,"}]},
 "mark":{"type":"text","font":"Liberation Sans","fontSize":15,"fontWeight":"bold","align":"left","baseline":"alphabetic","color":"#1a1a1a"},
 "encoding":{"text":{"field":"t"}}},
{"data":{"values":[{"x":44,"y":137,"t":"number of days (each dot represents 1 million days)"}]},
 "mark":{"type":"text","font":"Liberation Sans","fontSize":15,"align":"left","baseline":"alphabetic","color":"#555555"},
 "encoding":{"text":{"field":"t"}}},
{"data":{"values":[{"x":44,"y":712,"t":"McKinsey & Company"}]},
 "mark":{"type":"text","font":"Liberation Sans","fontSize":10.5,"align":"left","baseline":"alphabetic","color":"#222222"},
 "encoding":{"text":{"field":"t"}}},
{"data":{"name":"vals"},
 "mark":{"type":"text","font":"Liberation Sans","fontSize":13,"fontWeight":"bold","align":"right","baseline":"alphabetic","color":"#111111"},
 "encoding":{"text":{"field":"t"}}},
{"data":{"name":"descs"},
 "mark":{"type":"text","font":"Liberation Sans","fontSize":13,"align":"left","baseline":"alphabetic","lineHeight":14.7,"color":"#333333"},
 "encoding":{"text":{"field":"t"}}}
]
}
]
}
